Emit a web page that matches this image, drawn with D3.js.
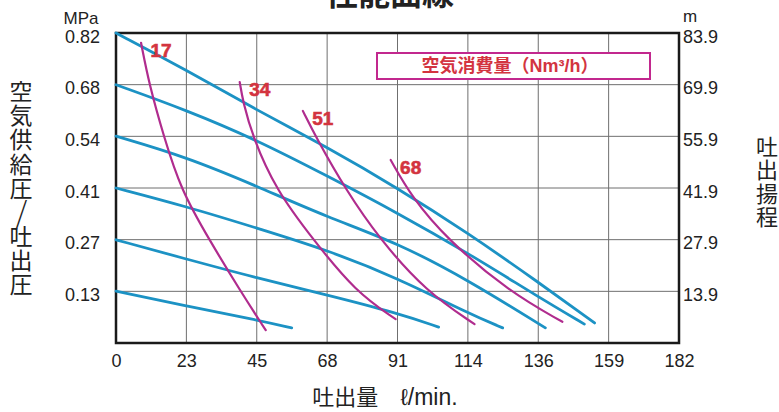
<!DOCTYPE html>
<html>
<head>
<meta charset="utf-8">
<script src="https://cdn.jsdelivr.net/npm/d3@7"></script>
<style>
  body { margin: 0; background: #fff; }
  svg { display: block; }
  .num { font-family: "Liberation Sans", Arial, sans-serif; fill: #222; }
  .jp { font-family: "Noto Sans CJK JP", sans-serif; fill: #222; }
</style>
</head>
<body>
<div id="chart"></div>
<script>
// tick labels
const flowTicks = ["0", "23", "45", "68", "91", "114", "136", "159", "182"];
const pressTicks = ["0.13", "0.27", "0.41", "0.54", "0.68", "0.82"];
const headTicks = ["13.9", "27.9", "41.9", "55.9", "69.9", "83.9"];

// discharge pressure lines, [flow l/min, MPa], one per supply pressure
const p082 = [[0, 0.82], [22.75, 0.722], [45.5, 0.616], [68.25, 0.518], [91, 0.41], [113.75, 0.291], [136.5, 0.161], [154.7, 0.053]];
const p068 = [[0, 0.683], [22.75, 0.616], [45.5, 0.537], [68.25, 0.442], [91, 0.344], [113.75, 0.238], [136.5, 0.122], [151.4, 0.05]];
const p054 = [[0, 0.547], [22.75, 0.492], [45.5, 0.415], [68.25, 0.333], [91, 0.265], [113.75, 0.167], [138.8, 0.04]];
const p041 = [[0, 0.41], [22.75, 0.361], [45.5, 0.304], [68.25, 0.246], [91, 0.172], [113.75, 0.079], [125, 0.04]];
const p027 = [[0, 0.273], [22.75, 0.222], [45.5, 0.172], [68.25, 0.127], [91, 0.079], [104.3, 0.042]];
const p013 = [[0, 0.137], [22.75, 0.098], [45.5, 0.061], [56.8, 0.04]];

// air consumption curves (Nm3/h)
const air17 = [[8.1, 0.794], [10.7, 0.685], [15.5, 0.545], [21.0, 0.405], [30.0, 0.275], [40.4, 0.135], [48.4, 0.034]];
const air34 = [[40.0, 0.69], [41.0, 0.64], [44.2, 0.545], [51.7, 0.405], [63.6, 0.275], [77.5, 0.135], [90.4, 0.063]];
const air51 = [[60.4, 0.614], [64.6, 0.545], [74.3, 0.405], [85.2, 0.275], [100.4, 0.135], [115.9, 0.05]];
const air68 = [[88.8, 0.484], [95.6, 0.386], [106.9, 0.275], [127.2, 0.135], [144.3, 0.056]];
const airNames = ["17", "34", "51", "68"];

const width = 779, height = 412;
const plot = { left: 116, right: 679, top: 33, bottom: 343 };
const blue = "#1c92c4", magenta = "#b02c8e", red = "#d3343f";

const x = d3.scaleLinear().domain([0, 182]).range([plot.left, plot.right]);
const y = d3.scaleLinear().domain([0, 0.82]).range([plot.bottom, plot.top]);
const yHead = d3.scaleLinear().domain([0, 83.9]).range([plot.bottom, plot.top]);

const svg = d3.select("#chart").append("svg")
  .attr("width", width)
  .attr("height", height);

// grid
const xVals = flowTicks.map((t, i) => i * 182 / 8);
const yVals = pressTicks.map((t, i) => (i + 1) * 0.82 / 6);
const hVals = headTicks.map((t, i) => (i + 1) * 83.9 / 6);

svg.append("g").selectAll("line")
  .data(xVals.slice(1, -1))
  .join("line")
  .attr("x1", d => x(d)).attr("x2", d => x(d))
  .attr("y1", plot.top).attr("y2", plot.bottom)
  .attr("stroke", "#6f6f6f").attr("stroke-width", 1);

svg.append("g").selectAll("line")
  .data(yVals.slice(0, -1))
  .join("line")
  .attr("x1", plot.left).attr("x2", plot.right)
  .attr("y1", d => y(d)).attr("y2", d => y(d))
  .attr("stroke", "#6f6f6f").attr("stroke-width", 1);

// frame
svg.append("rect")
  .attr("x", plot.left).attr("y", plot.top)
  .attr("width", plot.right - plot.left)
  .attr("height", plot.bottom - plot.top)
  .attr("fill", "none")
  .attr("stroke", "#1a1a1a")
  .attr("stroke-width", 2.5);

// axes labels
const bottomAxis = d3.axisBottom(x)
  .tickValues(xVals)
  .tickFormat((d, i) => flowTicks[i])
  .tickSize(0)
  .tickPadding(11);
svg.append("g")
  .attr("transform", `translate(0,${plot.bottom})`)
  .call(bottomAxis)
  .call(g => g.select(".domain").remove())
  .call(g => g.selectAll("text").attr("class", "num").attr("font-size", 18).style("font-family", null));

const leftAxis = d3.axisLeft(y)
  .tickValues(yVals)
  .tickFormat((d, i) => pressTicks[i])
  .tickSize(0)
  .tickPadding(16);
svg.append("g")
  .attr("transform", `translate(${plot.left},0)`)
  .call(leftAxis)
  .call(g => g.select(".domain").remove())
  .call(g => g.selectAll("text").attr("class", "num").attr("font-size", 18).attr("dy", "0.5em").style("font-family", null));

const rightAxis = d3.axisRight(yHead)
  .tickValues(hVals)
  .tickFormat((d, i) => headTicks[i])
  .tickSize(0)
  .tickPadding(4);
svg.append("g")
  .attr("transform", `translate(${plot.right},0)`)
  .call(rightAxis)
  .call(g => g.select(".domain").remove())
  .call(g => g.selectAll("text").attr("class", "num").attr("font-size", 18).attr("dy", "0.5em").style("font-family", null));

svg.selectAll(".tick text").attr("fill", "#222");

// units
svg.append("text").attr("class", "num").attr("x", 81).attr("y", 24)
  .attr("text-anchor", "middle").attr("font-size", 17).text("MPa");
svg.append("text").attr("class", "num").attr("x", 683).attr("y", 22)
  .attr("font-size", 17).text("m");

// title (cut at top)
svg.append("text").attr("class", "jp").attr("x", 390).attr("y", 5)
  .attr("text-anchor", "middle").attr("font-size", 32).attr("font-weight", "bold")
  .text("性能曲線");

// vertical titles
const leftTitle = "空気供給圧／吐出圧".split("");
svg.append("g").selectAll("text")
  .data(leftTitle)
  .join("text")
  .attr("class", "jp")
  .attr("x", 21)
  .attr("y", (d, i) => 92 + i * 24.1)
  .attr("dy", "0.36em")
  .attr("text-anchor", "middle")
  .text(d => d === "／" ? "/" : d)
  .attr("font-size", d => d === "／" ? 31 : 23)
  .attr("font-weight", d => d === "／" ? 300 : 400);

const rightTitle = "吐出揚程".split("");
svg.append("g").selectAll("text")
  .data(rightTitle)
  .join("text")
  .attr("class", "jp")
  .attr("x", 767)
  .attr("y", (d, i) => 147 + i * 23.5)
  .attr("dy", "0.36em")
  .attr("text-anchor", "middle")
  .attr("font-size", 22)
  .text(d => d);

// x title
const xTitle = svg.append("text").attr("x", 385).attr("y", 405)
  .attr("text-anchor", "middle").attr("fill", "#222");
xTitle.append("tspan").attr("class", "jp").attr("font-size", 22).text("吐出量");
xTitle.append("tspan").attr("class", "num").attr("font-size", 23).attr("dx", 22)
  .text("ℓ/min.");

// curves
const line = d3.line()
  .x(d => x(d[0]))
  .y(d => y(d[1]))
  .curve(d3.curveBasis);

svg.append("g").selectAll("path")
  .data([p082, p068, p054, p041, p027, p013])
  .join("path")
  .attr("d", line)
  .attr("fill", "none")
  .attr("stroke", blue)
  .attr("stroke-width", 2.8)
  .attr("stroke-linecap", "round");

const airCurves = [air17, air34, air51, air68];
svg.append("g").selectAll("path")
  .data(airCurves)
  .join("path")
  .attr("d", line)
  .attr("fill", "none")
  .attr("stroke", magenta)
  .attr("stroke-width", 2.2)
  .attr("stroke-linecap", "round");

// curve labels, placed up-right of each curve's top point
svg.append("g").selectAll("text")
  .data(airCurves)
  .join("text")
  .attr("class", "num")
  .attr("x", d => x(d[0][0]) + 20)
  .attr("y", d => y(d[0][1]) + 14)
  .attr("text-anchor", "middle")
  .attr("font-size", 19)
  .attr("font-weight", "bold")
  .style("fill", red)
  .style("stroke", red)
  .style("stroke-width", 0.6)
  .text((d, i) => airNames[i]);

// legend box
svg.append("rect")
  .attr("x", 377).attr("y", 53)
  .attr("width", 273).attr("height", 26)
  .attr("fill", "#fff")
  .attr("stroke", "#c2288e")
  .attr("stroke-width", 2);
const leg = svg.append("text").attr("x", 510).attr("y", 72)
  .attr("text-anchor", "middle").attr("font-size", 18).attr("font-weight", "bold")
  .style("fill", red);
leg.append("tspan").attr("class", "jp").style("fill", red).text("空気消費量（");
leg.append("tspan").attr("class", "num").style("fill", red).text("Nm³/h");
leg.append("tspan").attr("class", "jp").style("fill", red).text("）");
</script>
</body>
</html>
